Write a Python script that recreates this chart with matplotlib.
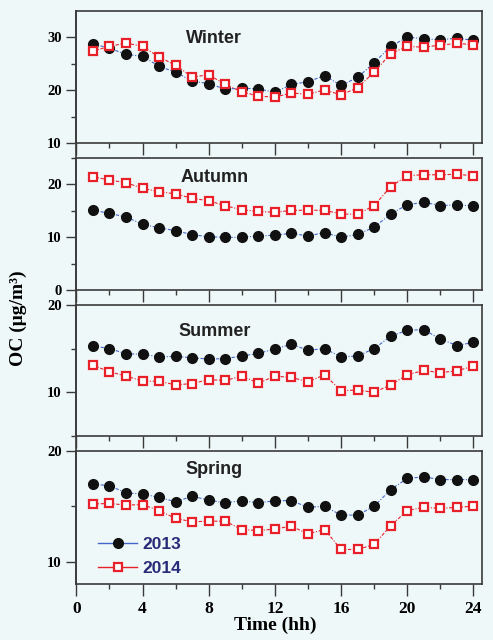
import matplotlib
matplotlib.use("Agg")
import matplotlib.pyplot as plt
from matplotlib.lines import Line2D
from matplotlib.ticker import MultipleLocator

hours = list(range(1, 25))

winter_2013 = [28.75, 27.9, 26.75, 26.4, 24.5, 23.4, 21.7, 21.25, 20.2, 20.4, 20.25, 19.6,
               21.1, 21.6, 22.75, 20.9, 22.4, 25.2, 28.25, 30.0, 29.7, 29.5, 29.8, 29.4]
winter_2014 = [27.4, 28.25, 28.9, 28.25, 26.25, 24.7, 22.5, 22.9, 21.1, 19.7, 18.9, 18.7,
               19.5, 19.2, 20.1, 19.1, 20.5, 23.4, 26.9, 28.25, 28.1, 28.5, 28.8, 28.6]
autumn_2013 = [15.15, 14.5, 13.85, 12.45, 11.8, 11.25, 10.5, 10.1, 10.0, 10.0, 10.25, 10.4,
               10.75, 10.25, 10.9, 10.0, 10.55, 11.9, 14.4, 16.15, 16.6, 16.0, 16.1, 15.95]
autumn_2014 = [21.45, 20.8, 20.3, 19.25, 18.6, 18.2, 17.35, 16.9, 15.95, 15.2, 14.9, 14.7,
               15.1, 15.1, 15.1, 14.4, 14.35, 16.0, 19.55, 21.65, 21.8, 21.8, 21.9, 21.6]
summer_2013 = [15.3, 15.0, 14.4, 14.35, 14.05, 14.1, 13.95, 13.8, 13.85, 14.15, 14.45, 14.95,
               15.5, 14.8, 15.0, 14.05, 14.15, 15.0, 16.4, 17.1, 17.15, 16.1, 15.35, 15.7]
summer_2014 = [13.1, 12.35, 11.85, 11.3, 11.25, 10.85, 11.0, 11.45, 11.35, 11.85, 11.05, 11.85,
               11.7, 11.2, 12.0, 10.2, 10.25, 10.0, 10.85, 12.0, 12.5, 12.25, 12.45, 13.0]
spring_2013 = [17.0, 16.85, 16.2, 16.1, 15.8, 15.4, 15.9, 15.55, 15.3, 15.5, 15.3, 15.5,
               15.5, 14.9, 15.0, 14.2, 14.2, 15.0, 16.5, 17.5, 17.65, 17.4, 17.4, 17.4]
spring_2014 = [15.2, 15.25, 15.1, 15.15, 14.6, 13.9, 13.6, 13.65, 13.65, 12.9, 12.8, 12.95,
               13.2, 12.5, 12.9, 11.1, 11.1, 11.55, 13.25, 14.6, 14.9, 14.8, 14.9, 15.0]

seasons = ["Winter", "Autumn", "Summer", "Spring"]
data_2013 = [winter_2013, autumn_2013, summer_2013, spring_2013]
data_2014 = [winter_2014, autumn_2014, summer_2014, spring_2014]
ylims = [(10, 35), (0, 25), (5, 20), (8, 20)]
ymajor = [[10, 20, 30], [0, 10, 20], [10, 20], [10, 20]]
yminor = [[15, 25], [5, 15, 25], [5, 15], [15]]

bg = "#eff8f8"
spine_col = "#3a3a3a"
blue = "#4466cc"
red = "#e8202a"
navy = "#282c78"

fig = plt.figure(figsize=(4.93, 6.4), dpi=100, facecolor=bg)

left, width = 0.155, 0.822
# (bottom, height) of each panel, top to bottom
boxes = [(0.776, 0.2075), (0.5464, 0.207), (0.3187, 0.205), (0.0877, 0.208)]
title_y = [0.79, 0.85, 0.80, 0.86]

for i, season in enumerate(seasons):
    ax = fig.add_axes([left, boxes[i][0], width, boxes[i][1]], facecolor=bg)
    ax.plot(hours, data_2013[i], color=blue, lw=0.8, ls=(0, (3, 1.5, 1, 1.5)),
            marker="o", ms=7, mfc="#111111", mec="#111111", zorder=3)
    ax.plot(hours, data_2014[i], color=red, lw=0.8, ls=(0, (3, 1.5, 1, 1.5)),
            marker="s", ms=5.5, mfc="white", mec=red, mew=1.6, zorder=3)
    ax.set_xlim(0, 24.5)
    ax.set_ylim(*ylims[i])
    ax.xaxis.set_major_locator(MultipleLocator(4))
    ax.xaxis.set_minor_locator(MultipleLocator(2))
    ax.set_yticks(ymajor[i])
    ax.set_yticks(yminor[i], minor=True)
    ax.tick_params(which="major", direction="out", length=7, width=1, color=spine_col)
    ax.tick_params(which="minor", direction="out", length=3.5, width=1, color=spine_col)
    ax.tick_params(axis="x", which="major", length=8.5)
    for lab in ax.get_yticklabels():
        lab.set_fontfamily("Liberation Serif")
        lab.set_fontweight("bold")
        lab.set_fontsize(10.5)
    for sp in ax.spines.values():
        sp.set_color(spine_col)
        sp.set_linewidth(1.2)
    ax.text(0.34, title_y[i], season, transform=ax.transAxes, ha="center", va="center",
            fontsize=13, fontweight="bold", family="Liberation Sans", color="#222222")
    if i < 3:
        ax.set_xticklabels([])
    else:
        for lab in ax.get_xticklabels():
            lab.set_fontfamily("Liberation Serif")
            lab.set_fontweight("bold")
            lab.set_fontsize(12.5)
        handles = [
            Line2D([], [], color=blue, lw=1, marker="o", ms=7, mfc="#111111", mec="#111111"),
            Line2D([], [], color=red, lw=1, marker="s", ms=5.5, mfc="white", mec=red, mew=1.6),
        ]
        leg = ax.legend(handles, ["2013", "2014"], loc="lower left", bbox_to_anchor=(0.035, 0.005),
                        frameon=False, handlelength=2.3, handletextpad=0.3, labelspacing=0.5,
                        borderaxespad=0, prop={"family": "Liberation Sans", "weight": "bold", "size": 12.5})
        for t in leg.get_texts():
            t.set_color(navy)

# continuous left spine across the gaps
fig.add_artist(Line2D([left, left], [boxes[3][0], boxes[0][0] + boxes[0][1]],
                      transform=fig.transFigure, color=spine_col, lw=1.2))

fig.text(0.037, 1 - 318 / 640, "OC (\u03bcg/m\u00b3)", rotation=90, ha="center", va="center",
         fontsize=14, fontweight="bold", family="Liberation Serif")
fig.text(0.558, 0.023, "Time (hh)", ha="center", va="center",
         fontsize=14, fontweight="bold", family="Liberation Serif")

fig.savefig("out.png", dpi=100, facecolor=bg)
